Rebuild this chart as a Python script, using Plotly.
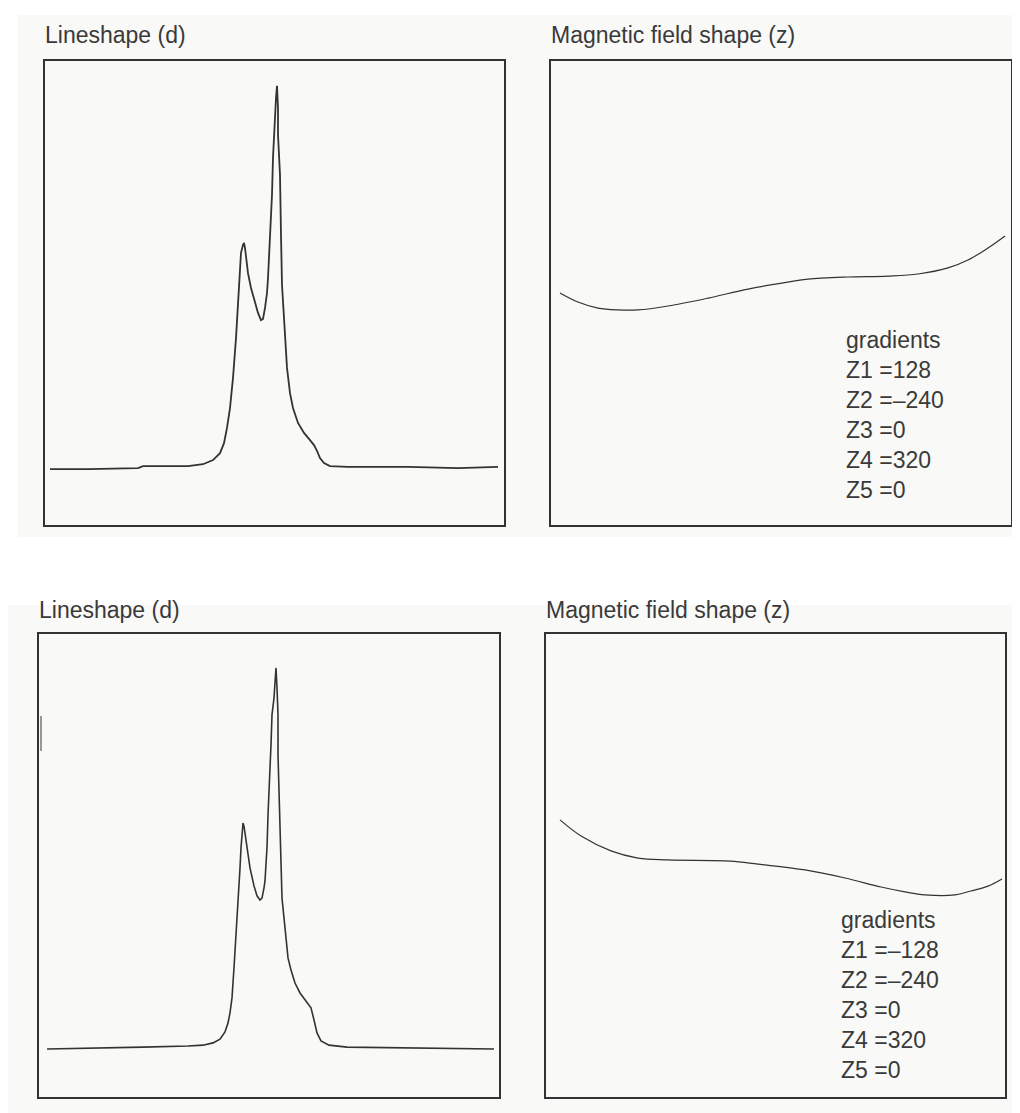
import plotly.graph_objects as go

W, H = 1020, 1113
INK = "#333333"
PANEL_BG = "#f9f9f7"
FONT = dict(family="Liberation Sans, Arial, sans-serif", size=23, color="#3a3a3a")

# lineshape, upper experiment (channel, relative intensity %)
ls1_chan = [5, 43, 93, 98, 143, 158, 168, 175, 179, 182, 185, 188, 191, 193, 194, 195,
            196, 198, 199, 200, 201, 203, 206, 210, 213, 216, 218, 220, 222, 223, 224,
            225, 226, 227, 228, 229, 230, 231, 232, 233, 233, 234, 235, 236, 237, 239,
            240, 242, 245, 248, 253, 259, 265, 269, 272, 275, 279, 285, 303, 363, 413, 453]
ls1_int = [-0.3, -0.3, 0, 0.5, 0.5, 1.0, 2.1, 3.9, 6.5, 10.5, 15.7, 23.6, 34.0, 41.9, 47.1, 51.8,
           56.3, 58.4, 58.9, 57.6, 55.0, 51.0, 47.1, 43.2, 40.6, 38.7, 39.0, 41.9, 45.8, 49.7, 55.0,
           61.0, 66.8, 71.5, 81.2, 87.2, 91.6, 96.9, 100.0, 94.2, 87.2, 81.2, 76.7, 61.0, 47.9, 39.3,
           34.0, 26.2, 19.6, 15.7, 11.8, 9.2, 7.3, 6.0, 4.5, 2.6, 1.3, 0.5, 0.3, 0.3, 0, 0.3]

# lineshape, lower experiment
ls2_chan = [8, 99, 104, 149, 164, 174, 181, 186, 189, 191, 193, 195, 197, 199, 200, 201,
            202, 203, 204, 205, 206, 208, 211, 215, 218, 221, 223, 225, 226, 227, 228,
            229, 230, 231, 232, 233, 235, 236, 237, 238, 239, 239, 240, 241, 242, 243,
            245, 247, 249, 252, 256, 261, 267, 272, 275, 278, 282, 290, 308, 355, 455]
ls2_int = [0, 0.3, 0.5, 0.8, 1.0, 1.6, 2.6, 4.5, 6.8, 9.5, 13.4, 21.3, 29.1, 37.0, 42.3, 47.5,
           52.8, 56.7, 59.3, 58.5, 56.7, 52.8, 47.5, 42.8, 40.2, 39.1, 39.6, 42.3, 44.1, 48.6, 52.8,
           61.4, 66.7, 71.9, 79.8, 87.7, 92.1, 96.1, 100.0, 94.8, 87.7, 77.2, 68.5, 61.4, 48.3, 39.6,
           34.4, 29.1, 23.9, 20.7, 17.3, 14.7, 12.6, 10.8, 7.6, 4.2, 2.1, 1.0, 0.5, 0.3, 0]

# short stray trace at the left edge of the lower lineshape (scan artefact)
stray_chan = [2, 2]
stray_int = [87.4, 78.2]

# field profile along z (normalised position, relative field)
fz1_pos = [-0.961, -0.883, -0.796, -0.709, -0.622, -0.491, -0.317, -0.143, 0.030,
           0.117, 0.291, 0.465, 0.596, 0.726, 0.813, 0.900, 0.974]
fz1_val = [0, -3.9, -6.5, -7.3, -7.3, -5.6, -2.2, 1.7, 4.7,
           6.0, 6.9, 7.3, 8.2, 10.8, 14.2, 19.4, 24.6]

fz2_pos = [-0.939, -0.847, -0.717, -0.599, -0.468, -0.198, -0.076, 0.129,
           0.303, 0.460, 0.564, 0.651, 0.782, 0.851, 0.926, 0.987]
fz2_val = [19.7, 12.7, 6.3, 3.2, 2.4, 1.9, 0.6, -1.9,
           -5.4, -9.3, -11.4, -12.7, -12.7, -11.0, -8.9, -5.8]

grad_names = ["Z1", "Z2", "Z3", "Z4", "Z5"]
grad_top = ["128", "–240", "0", "320", "0"]
grad_bottom = ["–128", "–240", "0", "320", "0"]

# panel boxes in page pixels: left, right, top, bottom
BOXES = [(37, 496, 53, 517), (543, 1003, 53, 517),
         (31, 491, 626, 1089), (538, 997, 626, 1089)]


def px_x(v):
    return v / W


def px_y(v):
    return 1 - v / H


fig = go.Figure()
fig.add_trace(go.Scatter(x=ls1_chan, y=ls1_int, xaxis="x", yaxis="y",
                         mode="lines", line=dict(color=INK, width=1.8)))
fig.add_trace(go.Scatter(x=fz1_pos, y=fz1_val, xaxis="x2", yaxis="y2",
                         mode="lines", line=dict(color=INK, width=1.2, shape="spline")))
fig.add_trace(go.Scatter(x=ls2_chan, y=ls2_int, xaxis="x3", yaxis="y3",
                         mode="lines", line=dict(color=INK, width=1.6)))
fig.add_trace(go.Scatter(x=stray_chan, y=stray_int, xaxis="x3", yaxis="y3",
                         mode="lines", line=dict(color="#777777", width=1.5)))
fig.add_trace(go.Scatter(x=fz2_pos, y=fz2_val, xaxis="x4", yaxis="y4",
                         mode="lines", line=dict(color=INK, width=1.2, shape="spline")))

ranges = [([0, 459], [-14.9, 106.5]), ([-1, 1], [-100, 100]),
          ([0, 460], [-12.6, 108.9]), ([-1, 1], [-100, 100])]

axes = {}
for i, ((l, r, t, b), (xr, yr)) in enumerate(zip(BOXES, ranges), start=1):
    sfx = "" if i == 1 else str(i)
    common = dict(showline=True, mirror=True, linecolor=INK, linewidth=2,
                  showgrid=False, zeroline=False, showticklabels=False, ticks="")
    axes["xaxis" + sfx] = dict(domain=[px_x(l), px_x(r)], range=xr,
                               anchor="y" + sfx, **common)
    axes["yaxis" + sfx] = dict(domain=[px_y(b), px_y(t)], range=yr,
                               anchor="x" + sfx, **common)

# light page panels behind each pair of plots
shapes = [
    dict(type="rect", xref="paper", yref="paper", x0=px_x(10), x1=1,
         y0=px_y(529), y1=px_y(7), fillcolor=PANEL_BG, line=dict(width=0), layer="below"),
    dict(type="rect", xref="paper", yref="paper", x0=0, x1=1,
         y0=0, y1=px_y(597), fillcolor=PANEL_BG, line=dict(width=0), layer="below"),
]

annotations = []
titles = [("Lineshape (d)", 37, 27), ("Magnetic field shape (z)", 543, 27),
          ("Lineshape (d)", 31, 602), ("Magnetic field shape (z)", 538, 602)]
for text, x, y in titles:
    annotations.append(dict(text=text, xref="paper", yref="paper", x=px_x(x), y=px_y(y),
                            xanchor="left", yanchor="middle", showarrow=False, font=FONT,
                            xshift=-2))

for values, x, y in [(grad_top, 838, 407), (grad_bottom, 833, 987)]:
    lines = ["gradients"] + [f"{n} ={v}" for n, v in zip(grad_names, values)]
    annotations.append(dict(text="<br>".join(lines), xref="paper", yref="paper",
                            x=px_x(x), y=px_y(y), xanchor="left", yanchor="middle",
                            align="left", showarrow=False, font=FONT, xshift=-2))

fig.update_layout(
    width=W, height=H,
    margin=dict(l=0, r=0, t=0, b=0),
    paper_bgcolor="white",
    plot_bgcolor=PANEL_BG,
    showlegend=False,
    shapes=shapes,
    annotations=annotations,
    **axes,
)

fig.write_html("out.html")
